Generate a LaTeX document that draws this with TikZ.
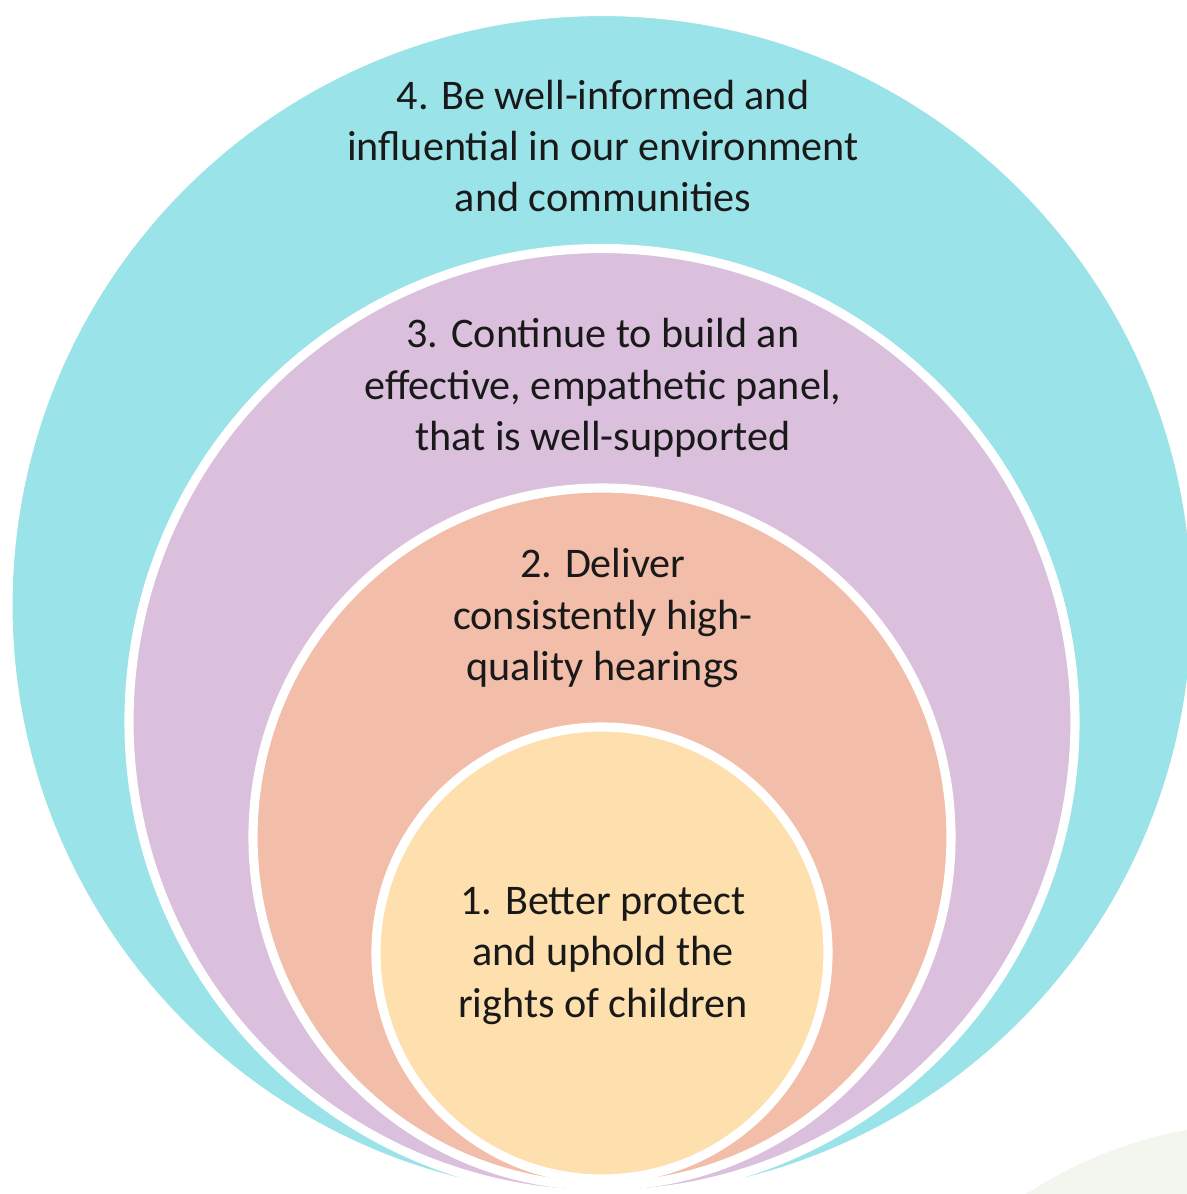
\documentclass[tikz,border=0pt]{standalone}
\usepackage{fontspec}
\setmainfont{Carlito}
\usepackage{xcolor}
\usepackage{tikz}
\definecolor{ringcyan}{RGB}{154,227,232}
\definecolor{ringpurple}{RGB}{218,192,220}
\definecolor{ringsalmon}{RGB}{242,190,170}
\definecolor{ringyellow}{RGB}{254,224,174}
\definecolor{cornergreen}{RGB}{242,246,238}

\begin{document}
\begin{tikzpicture}[ring/.style={draw=white,line width=2.6pt},
    goal/.style={align=center,text=black!90,font=\fontsize{12pt}{14.6pt}\selectfont}]
  \clip (0,0) rectangle (11.87,-11.94);
  % faint backdrop peeking in at the lower right
  \fill[cornergreen] (12.65,-15.60) circle (4.37);
  % Four nested rings, outermost first, all sitting on the bottom edge
  \foreach \cy/\r/\col in {-6.055/5.94/ringcyan, -7.215/4.73/ringpurple,
                           -8.37/3.49/ringsalmon, -9.53/2.26/ringyellow}{
    \draw[ring,fill=\col] (6.02,\cy) circle (\r);
  }
  % Goal labels, one per ring
  \node[goal] (goalfour) at (6.03,-1.46)
    {4. Be well-informed and\\influential in our environment\\and communities};
  \node[goal] (goalthree) at (6.03,-3.88)
    {3. Continue to build an\\effective, empathetic panel,\\that is well-supported};
  \node[goal] (goaltwo) at (6.03,-6.18)
    {2. Deliver\\consistently high-\\quality hearings};
  \node[goal] (goalone) at (6.03,-9.56)
    {1. Better protect\\and uphold the\\rights of children};
\end{tikzpicture}
\end{document}
